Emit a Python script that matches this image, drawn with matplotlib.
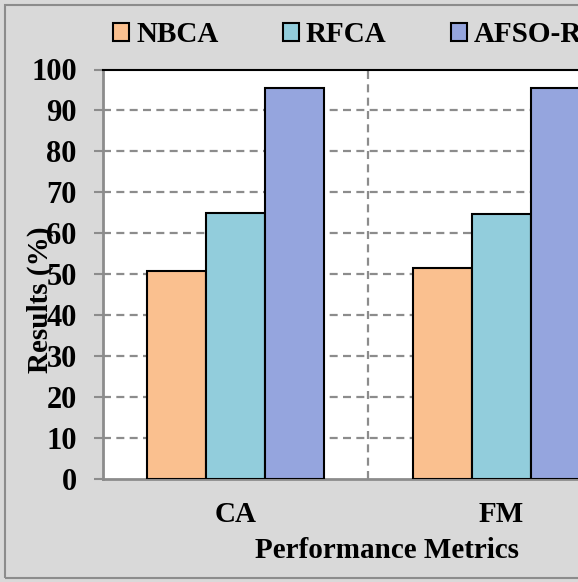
import matplotlib
matplotlib.use("Agg")
import matplotlib.pyplot as plt
import numpy as np
from matplotlib.patches import Rectangle, Patch

categories = ["CA", "FM"]
series_names = ["NBCA", "RFCA", "AFSO-RFCA"]
nbca = [50.9, 51.5]
rfca = [65.0, 64.7]
afso = [95.4, 95.4]
colors = ["#FAC08F", "#92CDDC", "#95A5DE"]

plt.rcParams['font.family'] = ['Liberation Serif', 'DejaVu Serif']
plt.rcParams['font.weight'] = 'bold'

W, H = 578, 582
fig = plt.figure(figsize=(W/100, H/100), dpi=100)
fig.patch.set_facecolor("#D9D9D9")

# outer border
fig.patches.append(Rectangle((5/W, 4/H), 1.2, (577-4)/H, transform=fig.transFigure,
                             fill=False, edgecolor="#8C8C8C", lw=1.5))

ax = fig.add_axes([102.5/W, (H-479)/H, 532/W, (479-69.5)/H])
ax.set_facecolor("white")

x = np.arange(len(categories))
bw = 1/(3+1.5)
for i, (vals, c, name) in enumerate(zip([nbca, rfca, afso], colors, series_names)):
    ax.bar(x + (i-1)*bw, vals, width=bw, color=c, edgecolor="black", lw=1.5, zorder=3, label=name)

ax.set_xlim(-0.5, len(categories)-0.5)
ax.set_ylim(0, 100)
ax.set_yticks(np.arange(0, 101, 10))
ax.set_xticks(x)
ax.set_xticklabels(categories, fontsize=21, fontweight='bold')
ax.tick_params(axis='x', length=0, pad=16)
ax.tick_params(axis='y', length=6.5, width=1.5, color="#8C8C8C", labelsize=22, pad=12)
for lab in ax.get_yticklabels():
    lab.set_fontweight('bold')

for yv in range(10, 100, 10):
    ax.axhline(yv, color="#8C8C8C", lw=1.6, ls=(0, (3.6, 2.4)), zorder=1)
for xb in np.arange(0.5, len(categories)-0.5, 1):
    ax.axvline(xb, color="#8C8C8C", lw=1.6, ls=(0, (3.6, 2.4)), zorder=1)

ax.spines["right"].set_visible(False)
ax.spines["top"].set_color("black")
ax.spines["top"].set_linewidth(1.5)
ax.spines["left"].set_color("#8C8C8C")
ax.spines["left"].set_linewidth(2)
ax.spines["bottom"].set_color("#8C8C8C")
ax.spines["bottom"].set_linewidth(2)

fig.text(387/W, 1-551/H, "Performance Metrics", ha='center', va='center', fontsize=21, fontweight='bold')
fig.text(40/W, 1-300/H, "Results (%)", ha='center', va='center', rotation=90, fontsize=21, fontweight='bold')

handles = [Patch(facecolor=c, edgecolor="black", lw=1.5) for c in colors]
fig.legend(handles, series_names, loc='center left', bbox_to_anchor=(113/W, 1-35/H), ncol=3,
           frameon=False, borderpad=0, borderaxespad=0, handlelength=0.55, handleheight=0.55,
           handletextpad=0.24, columnspacing=2.2, prop={'size': 21, 'weight': 'bold'})

fig.savefig("out.png", dpi=100, facecolor=fig.get_facecolor())
